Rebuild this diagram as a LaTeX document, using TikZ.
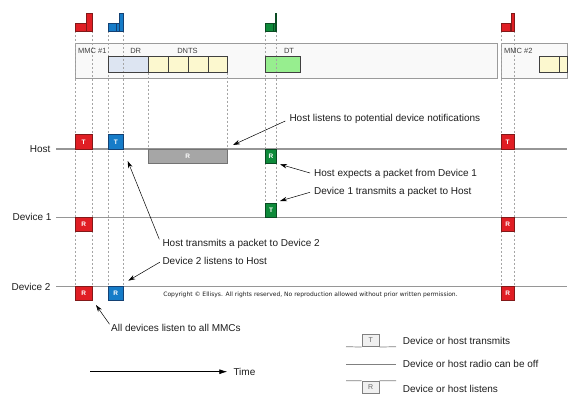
\documentclass[tikz,border=0pt]{standalone}
\usepackage{fontspec}
\setmainfont{Liberation Sans}
\newfontfamily\cpfont{DejaVu Sans}
\usetikzlibrary{arrows.meta}
\definecolor{mred}{RGB}{224,30,36}
\definecolor{mredD}{RGB}{130,25,25}
\definecolor{mblue}{RGB}{22,124,200}
\definecolor{mblueD}{RGB}{20,65,115}
\definecolor{mgreen}{RGB}{14,138,58}
\definecolor{mgreenD}{RGB}{10,75,35}
\definecolor{mgray}{RGB}{166,166,166}
\definecolor{mgrayD}{RGB}{115,115,115}
\definecolor{tline}{RGB}{150,150,150}
\definecolor{dline}{RGB}{165,165,165}
\definecolor{framec}{RGB}{155,155,155}
\definecolor{framef}{RGB}{249,249,249}
\definecolor{drf}{RGB}{221,229,242}
\definecolor{ylf}{RGB}{252,248,207}
\definecolor{dtf}{RGB}{151,238,143}
\definecolor{txt}{RGB}{30,30,30}
\definecolor{lgf}{RGB}{240,240,240}
\begin{document}
\begin{tikzpicture}[x=1pt,y=-1pt,
  pulse/.style={draw=#1D, fill=#1, text=white, font=\bfseries\fontsize{6.5}{6.5}\selectfont,
     inner sep=0pt, line width=0.6pt, minimum height=14.3pt},
  lbl/.style={font=\fontsize{10}{12}\selectfont, inner sep=0pt, text=txt},
  small/.style={font=\fontsize{7.5}{9}\selectfont, inner sep=0pt, text=txt!85},
  tl/.style={draw=tline, line width=1.2pt},
  dl/.style={draw=dline, line width=0.5pt, dash pattern=on 2pt off 2pt},
  ann/.style={draw=black, line width=0.5pt, -{Stealth[length=7pt,width=4.5pt]}},
  frm/.style={draw=framec, fill=framef, line width=1pt},
  pkt/.style={draw=black!75, line width=0.6pt},
  flag/.style={draw=#1D, fill=#1, line width=0.5pt},
  lgl/.style={draw=black!50, line width=0.7pt},
  lgbox/.style={draw=black!50, fill=lgf, line width=0.7pt, inner sep=0pt, minimum width=17.3pt, minimum height=12.7pt, text=black!60, font=\fontsize{7}{7}\selectfont}
]
\useasboundingbox (0,0) rectangle (582,406);
\fill[white] (0,0) rectangle (582,406);

% top frames
\draw[frm] (75,43.3) rectangle (497,79);
\draw[frm] (501,43.3) rectangle (567.7,79);

% packets in frame (fill)
\fill[drf] (108.3,56) rectangle (148.3,72.7);
\fill[ylf] (148.3,56) rectangle (227.7,72.7);
\fill[dtf] (265.3,56) rectangle (300.7,72.7);
\fill[ylf] (539.3,56) rectangle (567.7,72.7);

% dashed verticals
\foreach \x in {75,92.3,108.3,123.3,501,514.3} \draw[dl] (\x,31) -- (\x,286.7);
\foreach \x in {148.3,227.3} \draw[dl] (\x,72.7) -- (\x,149);
\foreach \x in {265.3,276.7} \draw[dl] (\x,31) -- (\x,202.7);

% packet outlines
\draw[pkt] (108.3,56) rectangle (148.3,72.7);
\foreach \a/\b in {148.3/168, 168/188, 188/208, 208/227.7} \draw[pkt] (\a,56) rectangle (\b,72.7);
\draw[pkt] (265.3,56) rectangle (300.7,72.7);
\draw[pkt] (539.3,56) rectangle (559.3,72.7);
\draw[pkt] (559.3,56) rectangle (567.7,72.7);

% flags
\draw[flag=mred] (75,23) rectangle (86,31);
\draw[flag=mred] (86,13.3) rectangle (92.3,31);
\draw[flag=mblue] (108.3,23) rectangle (116.7,31);
\draw[flag=mblue] (116.7,23) rectangle (119.3,31);
\draw[flag=mblue] (119.3,13.3) rectangle (123.3,31);
\draw[flag=mgreen] (265.3,23) rectangle (273.3,31);
\draw[flag=mgreen] (273.3,23) rectangle (275,31);
\draw[flag=mgreen] (275,13.3) rectangle (276.7,31);
\draw[flag=mred] (501,23) rectangle (510.7,31);
\draw[flag=mred] (510.7,23) rectangle (511.7,31);
\draw[flag=mred] (511.7,13.3) rectangle (514.3,31);

\node[small, anchor=west] (mmc1) at (78,50.7) {MMC \#1};
\node[small] (dr) at (135.7,50.7) {DR};
\node[small] (dnts) at (187.5,50.7) {DNTS};
\node[small] (dt) at (289,50.7) {DT};
\node[small, anchor=west] (mmc2) at (504,50.7) {MMC \#2};

% timelines
\node[lbl, anchor=east] (host) at (50.7,149) {Host};
\node[lbl, anchor=east] (dev1) at (51.7,217.3) {Device 1};
\node[lbl, anchor=east] (dev2) at (50.7,286.7) {Device 2};
\coordinate (hostE) at (567.3,149);
\coordinate (dev1E) at (567.3,217.3);
\coordinate (dev2E) at (567.3,286.7);
\draw[tl] ([xshift=5.3pt]host.east) -- (hostE);
\draw[tl] ([xshift=4.3pt]dev1.east) -- (dev1E);
\draw[tl] ([xshift=5.3pt]dev2.east) -- (dev2E);

% pulses
\node[pulse=mred, minimum width=17.3pt] (hT1) at (83.65,141.85) {T};
\node[pulse=mblue, minimum width=15pt] (hT2) at (115.8,141.85) {T};
\node[pulse=mgray, draw=mgrayD, fill=mgray, minimum width=79pt] (hR) at (187.8,156.15) {R};
\node[pulse=mgreen, minimum width=11.4pt] (hRg) at (271,156.25) {R};
\node[pulse=mgreen, minimum width=11.4pt] (d1Tg) at (271,210) {T};
\node[pulse=mred, minimum width=13.3pt] (hT3) at (507.65,141.85) {T};
\node[pulse=mred, minimum width=17.3pt] (d1R1) at (83.65,224.45) {R};
\node[pulse=mred, minimum width=13.3pt] (d1R2) at (507.65,224.45) {R};
\node[pulse=mred, minimum width=17.3pt] (d2R1) at (83.65,293.6) {R};
\node[pulse=mblue, minimum width=15pt] (d2R2) at (115.8,293.6) {R};
\node[pulse=mred, minimum width=13.3pt] (d2R3) at (507.65,293.6) {R};

% annotations
\node[lbl, anchor=west] (a1) at (289.3,119.3) {Host listens to potential device notifications};
\node[lbl, anchor=west] (a2) at (314,174) {Host expects a packet from Device 1};
\node[lbl, anchor=west] (a3) at (314,192.3) {Device 1 transmits a packet to Host};
\node[lbl, anchor=west] (a4) at (162.3,244.3) {Host transmits a packet to Device 2};
\node[lbl, anchor=west] (a5) at (162.3,260.7) {Device 2 listens to Host};
\node[lbl, anchor=west] (a6) at (111,327.7) {All devices listen to all MMCs};
\coordinate (t1) at (233,145);
\coordinate (t2) at (280,164.3);
\coordinate (t3) at (280,201);
\coordinate (t4) at (127.7,161);
\coordinate (t5) at (128.3,280.7);
\coordinate (t6) at (96,305);
\draw[ann] ([xshift=-4pt,yshift=-1.7pt]a1.west) -- (t1);
\draw[ann] ([xshift=-4pt,yshift=1pt]a2.west) -- (t2);
\draw[ann] ([xshift=-4pt]a3.west) -- (t3);
\draw[ann] ([xshift=-3pt,yshift=5pt]a4.west) -- (t4);
\draw[ann] ([xshift=-2.5pt,yshift=-1.5pt]a5.west) -- (t5);
\draw[ann] ([xshift=-1.5pt,yshift=3.5pt]a6.west) -- (t6);

% copyright
\node[inner sep=0pt, text=txt, font=\cpfont\fontsize{6}{7}\selectfont] (cp) at (310.5,295) {Copyright \textcopyright{} Ellisys. All rights reserved, No reproduction allowed without prior written permission.};

% time arrow
\node[lbl, anchor=west] (time) at (233.3,371.7) {Time};
\coordinate (ts) at (90,371.7);
\draw[line width=0.7pt, -{Latex[length=8pt,width=5pt]}] (ts) -- ([xshift=-6pt]time.west);

% legend
\node[lgbox] (lT) at (370.65,340.35) {T};
\node[lgbox] (lR) at (370.65,387.35) {R};
\coordinate (lT1) at (346,346.7);
\coordinate (lT2) at (396,346.7);
\coordinate (lR1) at (346,380.7);
\coordinate (lR2) at (396,380.7);
\coordinate (lM1) at (346,364);
\coordinate (lM2) at (396,364);
\draw[lgl] (lT1) -- (lT.south west);
\draw[lgl] (lT.south east) -- (lT2);
\draw[lgl] (lR1) -- (lR.north west);
\draw[lgl] (lR.north east) -- (lR2);
\draw[lgl] (lM1) -- (lM2);
\node[lbl, anchor=west] (lTt) at (402.7,340.7) {Device or host transmits};
\node[lbl, anchor=west] (lMt) at (402.7,364) {Device or host radio can be off};
\node[lbl, anchor=west] (lRt) at (402.7,389) {Device or host listens};
\end{tikzpicture}
\end{document}
